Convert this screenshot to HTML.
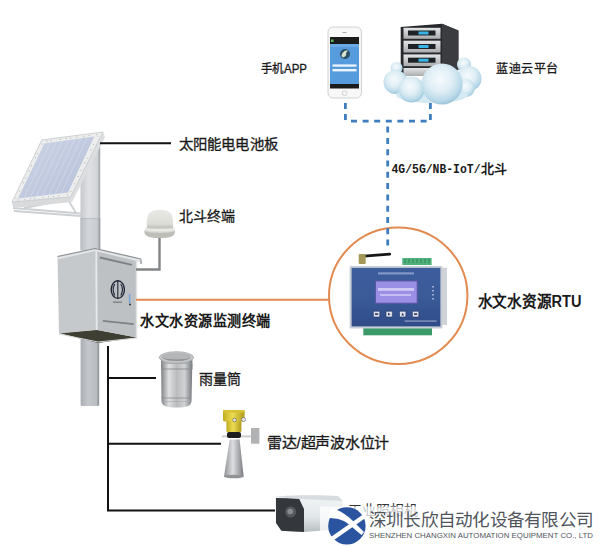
<!DOCTYPE html>
<html lang="zh-CN"><head><meta charset="utf-8">
<style>
html,body{margin:0;padding:0;background:#fff;width:600px;height:546px;overflow:hidden;}
svg{display:block;}
text{font-family:"Liberation Sans",sans-serif;}
.mono{font-family:"Liberation Mono",monospace;}
</style></head>
<body>
<svg width="600" height="546" viewBox="0 0 600 546">
<defs>
  <linearGradient id="pole" x1="0" x2="1" y1="0" y2="0">
    <stop offset="0" stop-color="#b9bdc2"/>
    <stop offset="0.4" stop-color="#d3d6da"/>
    <stop offset="0.85" stop-color="#c8cbd0"/>
    <stop offset="1" stop-color="#8f9398"/>
  </linearGradient>
  <linearGradient id="pole2" x1="0" x2="1" y1="0" y2="0">
    <stop offset="0" stop-color="#c6c9cd"/>
    <stop offset="0.4" stop-color="#dfe1e4"/>
    <stop offset="0.85" stop-color="#d2d5d8"/>
    <stop offset="1" stop-color="#9a9ea2"/>
  </linearGradient>
  <linearGradient id="pole3" x1="0" x2="1" y1="0" y2="0">
    <stop offset="0" stop-color="#a9adb3"/>
    <stop offset="0.4" stop-color="#c4c8cd"/>
    <stop offset="0.85" stop-color="#b9bdc2"/>
    <stop offset="1" stop-color="#868a90"/>
  </linearGradient>
  <linearGradient id="cell" x1="0" x2="1" y1="0" y2="1">
    <stop offset="0" stop-color="#ccd4e6"/>
    <stop offset="1" stop-color="#b6c0d8"/>
  </linearGradient>
  <linearGradient id="metal" x1="0" x2="1" y1="0" y2="0">
    <stop offset="0" stop-color="#7f8285"/>
    <stop offset="0.25" stop-color="#dfe0e1"/>
    <stop offset="0.5" stop-color="#b9bbbd"/>
    <stop offset="0.75" stop-color="#d0d2d4"/>
    <stop offset="1" stop-color="#75787b"/>
  </linearGradient>
  <linearGradient id="cone" x1="0" x2="1" y1="0" y2="0">
    <stop offset="0" stop-color="#8e9094"/>
    <stop offset="0.45" stop-color="#dcdee0"/>
    <stop offset="1" stop-color="#7a7c80"/>
  </linearGradient>
  <linearGradient id="yellow" x1="0" x2="1" y1="0" y2="0">
    <stop offset="0" stop-color="#c2ad22"/>
    <stop offset="0.45" stop-color="#ecdc52"/>
    <stop offset="1" stop-color="#b09c1c"/>
  </linearGradient>
  <linearGradient id="dome" x1="0" x2="0" y1="0" y2="1">
    <stop offset="0" stop-color="#e9eae5"/>
    <stop offset="0.5" stop-color="#dcddd7"/>
    <stop offset="0.62" stop-color="#c2c3bd"/>
    <stop offset="0.7" stop-color="#e2e2dc"/>
    <stop offset="1" stop-color="#c9cac4"/>
  </linearGradient>
  <radialGradient id="cloudg" cx="0.5" cy="0.45" r="0.6">
    <stop offset="0" stop-color="#eef7fb"/>
    <stop offset="0.6" stop-color="#d2e8f2"/>
    <stop offset="1" stop-color="#a6cde0"/>
  </radialGradient>
  <radialGradient id="puff" cx="0.4" cy="0.35" r="0.65">
    <stop offset="0" stop-color="#ffffff" stop-opacity="0.9"/>
    <stop offset="0.6" stop-color="#e4f2f8" stop-opacity="0.4"/>
    <stop offset="1" stop-color="#b0d4e6" stop-opacity="0"/>
  </radialGradient>
  <linearGradient id="rtu" x1="0" x2="0" y1="0" y2="1">
    <stop offset="0" stop-color="#3d5c9c"/>
    <stop offset="0.5" stop-color="#3a5a98"/>
    <stop offset="1" stop-color="#2f4c88"/>
  </linearGradient>
  <linearGradient id="bay" x1="0" x2="0" y1="0" y2="1">
    <stop offset="0" stop-color="#e4e5e6"/>
    <stop offset="1" stop-color="#a9abad"/>
  </linearGradient>
  <linearGradient id="camw" x1="0" x2="0" y1="0" y2="1">
    <stop offset="0" stop-color="#f2f5f6"/>
    <stop offset="0.6" stop-color="#e2e7e9"/>
    <stop offset="1" stop-color="#b8bfc2"/>
  </linearGradient>
  <radialGradient id="puff2" cx="0.45" cy="0.38" r="0.62">
    <stop offset="0" stop-color="#f5fafc"/>
    <stop offset="0.5" stop-color="#dfeef5"/>
    <stop offset="0.85" stop-color="#b9d9e9"/>
    <stop offset="1" stop-color="#9cc5db"/>
  </radialGradient>
  <clipPath id="cloudclip">
    <circle cx="464.8" cy="64" r="8"/>
    <circle cx="395" cy="82" r="12.5"/>
    <circle cx="469" cy="78" r="12"/>
    <circle cx="411.7" cy="88.5" r="12.5"/>
    <circle cx="468" cy="88" r="12"/>
    <circle cx="441" cy="83" r="19.5"/>
    <ellipse cx="432" cy="94" rx="42" ry="8"/>
  </clipPath>
</defs>

<!-- ===== solar panel ===== -->
<g stroke="#cdd0d3" stroke-width="1.8" fill="none">
  <line x1="13" y1="208" x2="81" y2="213.5"/>
  <line x1="14" y1="211" x2="81" y2="216"/>
  <line x1="24" y1="208" x2="70" y2="199"/>
  <line x1="67" y1="198" x2="76" y2="213"/>
  <line x1="72" y1="198" x2="81" y2="182"/>
</g>
<rect x="80.5" y="144" width="19.7" height="106" fill="url(#pole2)"/>
<line x1="80.5" y1="218.5" x2="100.2" y2="218.5" stroke="#a9adb2" stroke-width="1"/>
<rect x="80.5" y="218.5" width="19.7" height="32" fill="url(#pole)"/>
<polygon points="12,202 70.6,196.8 72,202 13,208" fill="#d8dadc"/>
<polygon points="70.6,196.8 103,132 105,137 72,202" fill="#dcdee0"/>
<polygon points="103,132 41.8,139.9 12,202 70.6,196.8" fill="#eceded" stroke="#c4c7ca" stroke-width="0.8"/>
<polygon points="94.3,136.4 44.4,143.4 18,198.5 68,192.4" fill="url(#cell)"/>
<g stroke="#dfe5f0" stroke-width="0.8" opacity="0.6">
  <line x1="50" y1="142.6" x2="24.2" y2="197.8"/>
  <line x1="56.2" y1="141.8" x2="30.4" y2="197"/>
  <line x1="62.4" y1="140.9" x2="36.6" y2="196.3"/>
  <line x1="68.6" y1="140" x2="42.8" y2="195.5"/>
  <line x1="74.8" y1="139.2" x2="49" y2="194.8"/>
  <line x1="81" y1="138.3" x2="55.2" y2="194"/>
  <line x1="87.2" y1="137.4" x2="61.4" y2="193.2"/>
</g>

<g fill="#8e9296" opacity="0.7"><circle cx="96.4" cy="134.5" r="0.55"/><circle cx="89.2" cy="135.5" r="0.55"/><circle cx="83.7" cy="136.2" r="0.55"/><circle cx="76.7" cy="137.1" r="0.55"/><circle cx="70.5" cy="138.0" r="0.55"/><circle cx="66.2" cy="138.6" r="0.55"/><circle cx="60.2" cy="139.4" r="0.55"/><circle cx="51.2" cy="140.6" r="0.55"/><circle cx="47.0" cy="141.1" r="0.55"/><circle cx="42.0" cy="144.0" r="0.55"/><circle cx="37.6" cy="153.2" r="0.55"/><circle cx="35.3" cy="157.8" r="0.55"/><circle cx="31.6" cy="165.6" r="0.55"/><circle cx="29.1" cy="170.9" r="0.55"/><circle cx="25.7" cy="178.0" r="0.55"/><circle cx="23.4" cy="182.7" r="0.55"/><circle cx="19.5" cy="191.0" r="0.55"/><circle cx="15.9" cy="198.3" r="0.55"/><circle cx="18.1" cy="199.9" r="0.55"/><circle cx="24.8" cy="199.2" r="0.55"/><circle cx="30.6" cy="198.6" r="0.55"/><circle cx="34.7" cy="198.2" r="0.55"/><circle cx="43.0" cy="197.3" r="0.55"/><circle cx="48.5" cy="196.8" r="0.55"/><circle cx="53.6" cy="196.2" r="0.55"/><circle cx="58.7" cy="195.7" r="0.55"/><circle cx="67.5" cy="194.8" r="0.55"/><circle cx="70.9" cy="191.3" r="0.55"/><circle cx="74.6" cy="183.7" r="0.55"/><circle cx="78.1" cy="176.4" r="0.55"/><circle cx="81.1" cy="170.3" r="0.55"/><circle cx="84.7" cy="162.9" r="0.55"/><circle cx="87.1" cy="158.1" r="0.55"/><circle cx="91.0" cy="149.9" r="0.55"/><circle cx="93.7" cy="144.5" r="0.55"/><circle cx="97.8" cy="136.0" r="0.55"/></g>
<!-- line to solar label -->
<line x1="100" y1="143.2" x2="171" y2="143.2" stroke="#111" stroke-width="2"/>

<!-- ===== enclosure box ===== -->
<rect x="80.6" y="338" width="18.6" height="68" rx="1.5" fill="url(#pole3)"/>
<polygon points="59,333 96.7,329.7 137,337.5 98,343" fill="#3e3e32"/>
<polyline points="59,334 98,342 137,338" fill="none" stroke="#d6d8d8" stroke-width="1"/>
<polygon points="57.5,257 95,249 96.7,330 59,333.5" fill="#c6c9cb"/>
<polygon points="95,249 136.7,259 136.7,337.5 96.7,330" fill="#bec1c4"/>
<polyline points="57.5,258 95,249.5 140.8,260.5" fill="none" stroke="#e2e4e5" stroke-width="3"/>
<polyline points="57.5,256.5 95,248.5 141,259" fill="none" stroke="#8a8e91" stroke-width="1.2"/>
<line x1="141" y1="259.5" x2="141" y2="264" stroke="#9a9ea1" stroke-width="1.5"/>
<line x1="96.3" y1="251" x2="96.7" y2="330" stroke="#e6e8e9" stroke-width="1.8"/>
<g fill="#7e8286">
  <rect x="100" y="256.5" width="33" height="2" transform="rotate(13 100 256.5)"/>
  <rect x="103" y="320" width="31" height="1.8" transform="rotate(6 103 320)"/>
  <rect x="113" y="301.5" width="9" height="1.4"/>
</g>
<ellipse cx="117.8" cy="289.6" rx="6.6" ry="8.8" fill="none" stroke="#1f2636" stroke-width="1.4"/>
<path d="M117.8,280.5 L117.8,298.5 M114.8,284 C113,287 113,292 114.8,295.5 M120.8,284 C122.6,287 122.6,292 120.8,295.5" stroke="#1f2636" stroke-width="1.1" fill="none"/>
<rect x="128.8" y="294" width="1.6" height="9" fill="#7aa6d8"/>
<circle cx="130" cy="304.5" r="0.9" fill="#223"/>
<line x1="136.5" y1="260" x2="136.5" y2="337" stroke="#dfe1e3" stroke-width="1.5"/>

<!-- dome antenna + cable -->
<polyline points="159.5,237 159.5,269.5 136,269.5" fill="none" stroke="#828486" stroke-width="2.4"/>
<path d="M147,227 C146,212 151,210 160,210 C169,210 174,212 173,227 L175,231 C175,237 170,238 160,238 C150,238 144,237 144,231 Z" fill="url(#dome)"/>
<path d="M144.5,231 C150,233.5 170,233.5 175,231 C175,236 170,238 160,238 C150,238 145,236 144.5,231 Z" fill="#bdbeb8"/>
<path d="M145,228.5 C152,231 168,231 175,228.5" stroke="#ecece8" stroke-width="1.6" fill="none"/>

<!-- orange line -->
<line x1="136" y1="299.7" x2="329" y2="299.7" stroke="#e28a50" stroke-width="2"/>

<!-- ===== RTU circle ===== -->
<ellipse cx="398.2" cy="295.8" rx="69.2" ry="68.2" fill="none" stroke="#e28a50" stroke-width="2"/>
<!-- dashed line down -->
<line x1="387.7" y1="126.6" x2="387.7" y2="246.5" stroke="#3f7dbf" stroke-width="2.8" stroke-dasharray="6,5.3"/>
<!-- terminals -->
<rect x="402.3" y="258" width="29.3" height="7" fill="#4fb07c"/>
<g stroke="#2f7a50" stroke-width="0.8">
  <line x1="405" y1="259" x2="405" y2="263"/><line x1="409" y1="259" x2="409" y2="263"/>
  <line x1="413" y1="259" x2="413" y2="263"/><line x1="417" y1="259" x2="417" y2="263"/>
  <line x1="421" y1="259" x2="421" y2="263"/><line x1="425" y1="259" x2="425" y2="263"/>
  <line x1="429" y1="259" x2="429" y2="263"/>
</g>
<rect x="363.3" y="328" width="68.7" height="7.3" fill="#3a9a68"/>
<!-- antenna -->
<line x1="364" y1="256.2" x2="389.7" y2="254.2" stroke="#161616" stroke-width="2.8" stroke-linecap="round"/>
<rect x="358.7" y="254" width="7" height="10" rx="1" fill="#a49858"/>
<!-- device -->
<rect x="442" y="267.7" width="5" height="57.3" fill="#cfd3d8"/>
<rect x="349.6" y="265.9" width="92.8" height="62.5" rx="1" fill="#c8ced8"/>
<rect x="351.6" y="267.9" width="88.8" height="58.5" fill="url(#rtu)"/>
<rect x="374.8" y="280.3" width="43.1" height="23.6" fill="#5a58a6"/>
<rect x="376" y="281.5" width="40.7" height="21.2" fill="#9a8fe4"/>
<rect x="378" y="288" width="36" height="2.8" fill="#e4defc" opacity="0.75"/>
<rect x="380" y="294" width="31" height="2" fill="#e4defc" opacity="0.6"/>
<rect x="378" y="272.3" width="36" height="2.2" fill="#9fb0d8" opacity="0.7"/>
<rect x="404.6" y="320.2" width="32" height="1.8" fill="#8fa0c8" opacity="0.7"/>
<g fill="#9fb0d8"><rect x="432" y="286" width="2" height="1.5"/><rect x="432" y="290" width="2" height="1.5"/><rect x="432" y="294" width="2" height="1.5"/><rect x="432" y="298" width="2" height="1.5"/></g>
<g fill="#dfe3ee" stroke="#22305a" stroke-width="0.6">
  <rect x="373.4" y="311.2" width="6.4" height="5.8" rx="1"/>
  <rect x="386" y="311.2" width="6.4" height="5.8" rx="1"/>
  <rect x="399.5" y="311.2" width="6.4" height="5.8" rx="1"/>
  <rect x="412.4" y="311.2" width="6.4" height="5.8" rx="1"/>
</g>
<g fill="#2a3560">
  <rect x="375" y="313.3" width="3.2" height="1.6"/>
  <polygon points="388,312.8 388,315.6 390.6,314.2"/>
  <polygon points="401.3,315.4 404.1,315.4 402.7,312.8"/>
  <rect x="414" y="313.3" width="3.2" height="1.6"/>
</g>

<!-- ===== phone / server / cloud ===== -->
<g stroke="#3f7dbf" stroke-width="2.8" fill="none">
<line x1="345.4" y1="103" x2="345.4" y2="120.5" stroke-dasharray="6,5"/>
<line x1="430.4" y1="103" x2="430.4" y2="120.5" stroke-dasharray="6,5"/>
<line x1="351" y1="121.2" x2="427" y2="121.2" stroke-dasharray="6,5.6"/>
</g>
<rect x="328" y="27" width="33.5" height="71" rx="5" fill="#f8f8f8" stroke="#d2d2d2" stroke-width="1"/>
<rect x="330" y="37" width="29" height="51.5" fill="#1b1b1b"/>
<rect x="330" y="44" width="29" height="40" fill="#569bdc"/>
<rect x="330" y="44" width="29" height="3" fill="#6aaae6"/>
<rect x="331" y="39.5" width="2.5" height="2.5" fill="#5cb85c"/>
<circle cx="345" cy="54" r="5" fill="#2c4f66"/>
<path d="M341.5,56 C342,52 345,50 348,50.5 L346,53 C347,55 345,57 343,57.5 Z" fill="#d8e4d0"/>
<rect x="332.5" y="64.4" width="24" height="2.3" fill="#eef4fb"/>
<rect x="332.5" y="69" width="24" height="2.4" fill="#eef4fb"/>
<circle cx="344.6" cy="93.2" r="2.4" fill="none" stroke="#c6c6c6" stroke-width="0.8"/>
<rect x="342.5" y="32" width="4" height="1" fill="#aaa"/>

<!-- server -->
<polygon points="400.7,26.9 442,23.8 458.4,30.6 458.4,70 400.7,74" fill="#26282c"/>
<polygon points="442,23.8 458.4,30.6 458.4,70 442,72" fill="#3a3c40"/>
<rect x="403.5" y="27.8" width="37" height="11" fill="url(#bay)"/>
<rect x="403.5" y="40.7" width="37" height="11.8" fill="url(#bay)"/>
<rect x="403.5" y="54.4" width="37" height="11.8" fill="url(#bay)"/>
<rect x="403.5" y="68" width="37" height="8" fill="url(#bay)"/>
<rect x="408" y="30.5" width="27.5" height="5" fill="#1d2226"/>
<rect x="408" y="44" width="27.5" height="5" fill="#1d2226"/>
<rect x="408" y="57.7" width="27.5" height="5" fill="#1d2226"/>
<rect x="418.5" y="31.5" width="10" height="3" fill="#39b4e6"/>
<rect x="418.5" y="45" width="10" height="3" fill="#39b4e6"/>
<rect x="418.5" y="58.7" width="10" height="3" fill="#39b4e6"/>
<!-- cloud -->
<g>
  <circle cx="396.6" cy="68" r="6" fill="url(#puff2)"/>
  <circle cx="464" cy="64.5" r="7" fill="url(#puff2)"/>
  <circle cx="395.5" cy="82" r="12" fill="url(#puff2)"/>
  <circle cx="469" cy="78.5" r="12.5" fill="url(#puff2)"/>
  <circle cx="466" cy="88" r="9" fill="url(#puff2)"/>
  <ellipse cx="432" cy="95" rx="36" ry="8" fill="#d4e9f2"/>
  <circle cx="411.5" cy="89.5" r="13" fill="url(#puff2)"/>
  <circle cx="442" cy="84" r="20.5" fill="url(#puff2)"/>
</g>

<!-- ===== sensors ===== -->
<polyline points="108,346 108,510.5 275,510.5" fill="none" stroke="#111" stroke-width="2"/>
<line x1="108" y1="378" x2="156" y2="378" stroke="#111" stroke-width="2"/>
<line x1="108" y1="443.7" x2="221" y2="443.7" stroke="#111" stroke-width="2"/>

<!-- rain gauge -->
<path d="M161,360 L192.4,360 L191.5,401 C191,406 187,407.5 176.5,407.5 C166,407.5 162,406 161.5,401 Z" fill="url(#metal)"/>
<rect x="161" y="363.5" width="31.4" height="5.5" fill="url(#metal)"/>
<line x1="161" y1="369" x2="192.4" y2="369" stroke="#8a8d90" stroke-width="0.9"/>
<line x1="161" y1="363.5" x2="192.4" y2="363.5" stroke="#9a9da0" stroke-width="0.6"/>
<line x1="161.5" y1="398" x2="191.5" y2="398" stroke="#8a8d90" stroke-width="0.8"/>
<line x1="161.5" y1="401.5" x2="191.5" y2="401.5" stroke="#a6a9ac" stroke-width="0.6"/>
<ellipse cx="176.4" cy="357.5" rx="17.2" ry="5.8" fill="#c3c5c7" stroke="#a5a8ab" stroke-width="0.8"/>
<ellipse cx="176.4" cy="357" rx="14.5" ry="4.2" fill="#b4b6b8"/>
<path d="M162,357.5 C166,362 187,362 191,357.5 C187,360 166,360 162,357.5 Z" fill="#8f9295"/>

<!-- radar -->
<polygon points="229.7,439.6 239.6,439.6 243.7,476.5 224,476.5" fill="url(#cone)"/>
<ellipse cx="233.8" cy="476.5" rx="9.9" ry="1.8" fill="#909296"/>
<rect x="222" y="435.5" width="37" height="1.8" fill="#c8cacc"/>
<rect x="251" y="428" width="8.4" height="15.7" fill="#b0b2b4"/>
<rect x="227" y="432" width="14" height="6" rx="2" fill="#1e1e1e"/>
<rect x="226.4" y="420" width="15" height="12" rx="1" fill="url(#yellow)"/>
<rect x="223" y="410" width="21.6" height="11.5" rx="1.5" fill="url(#yellow)"/>
<rect x="223" y="410" width="21.6" height="2.5" fill="#d6c232"/>
<circle cx="234.5" cy="420" r="1.8" fill="#eee" stroke="#555" stroke-width="0.6"/>
<circle cx="243.5" cy="419.5" r="2" fill="#eee" stroke="#555" stroke-width="0.6"/>

<!-- camera -->
<path d="M275,497 C290,495 320,495 338,496 L342.7,501 L342.7,529 L304,532 L282,531 L276,523 Z" fill="url(#camw)"/>
<path d="M276,498 L299,498.5 L304,509 L304,532 L281.3,530.7 L276,523 Z" fill="#34373b"/>
<path d="M275,497 C290,495 320,495 338,496 L342.7,501 L300,499 Z" fill="#d6dcdf"/>
<circle cx="290.7" cy="512" r="5.5" fill="#55595d"/>
<circle cx="290.2" cy="511.5" r="2.8" fill="#8a8e92"/>

<!-- ===== text labels ===== -->
<text x="261" y="73.3" font-size="12" fill="#1a1a1a" textLength="46" lengthAdjust="spacingAndGlyphs" stroke="#1a1a1a" stroke-width="0.3">手机APP</text>
<text x="496" y="72.5" font-size="12.5" fill="#1a1a1a" textLength="62.5" lengthAdjust="spacingAndGlyphs" stroke="#1a1a1a" stroke-width="0.3">蓝迪云平台</text>
<text x="178.5" y="148.7" font-size="14.2" fill="#1a1a1a" textLength="99.5" lengthAdjust="spacingAndGlyphs" stroke="#1a1a1a" stroke-width="0.3">太阳能电电池板</text>
<text x="179" y="221" font-size="14" fill="#1a1a1a" stroke="#1a1a1a" stroke-width="0.3">北斗终端</text>
<text x="391.5" y="173" font-size="12.5" font-weight="bold" fill="#1a1a1a"><tspan class="mono" textLength="89" lengthAdjust="spacingAndGlyphs">4G/5G/NB-IoT/</tspan><tspan font-size="13">北斗</tspan></text>
<text x="477.5" y="306.5" font-size="15.8" font-weight="bold" fill="#1a1a1a" textLength="104" lengthAdjust="spacingAndGlyphs">水文水资源RTU</text>
<text x="140" y="326" font-size="14.6" font-weight="bold" fill="#1a1a1a" textLength="130.5" lengthAdjust="spacingAndGlyphs">水文水资源监测终端</text>
<text x="199" y="384" font-size="14" fill="#1a1a1a" stroke="#1a1a1a" stroke-width="0.3">雨量筒</text>
<text x="267.2" y="447.5" font-size="14.3" fill="#1a1a1a" textLength="121.8" lengthAdjust="spacingAndGlyphs" stroke="#1a1a1a" stroke-width="0.3">雷达/超声波水位计</text>
<text x="348" y="515" font-size="14" fill="#333" textLength="69.5" lengthAdjust="spacingAndGlyphs">工业照相机</text>

<!-- ===== watermark ===== -->
<rect x="320" y="506.5" width="280" height="40" fill="#fff" opacity="0.72"/>
<circle cx="346.9" cy="525.9" r="18.7" fill="#2a54a0"/>
<path d="M332,508 C341,511 348,516 353,521 L364,532 L361.5,535 L349,524.5 C344,520 337,518 327,518 Z" fill="#fff"/>
<path d="M331,539.5 L366,515" stroke="#fff" stroke-width="4.3" fill="none"/>
<text x="369" y="526" font-size="17.4" fill="#50555c" font-weight="300" textLength="224" lengthAdjust="spacingAndGlyphs">深圳长欣自动化设备有限公司</text>
<text x="369" y="537.5" font-size="7.4" fill="#50555c" textLength="224" lengthAdjust="spacingAndGlyphs">SHENZHEN CHANGXIN AUTOMATION EQUIPMENT CO., LTD</text>
</svg>
</body></html>
